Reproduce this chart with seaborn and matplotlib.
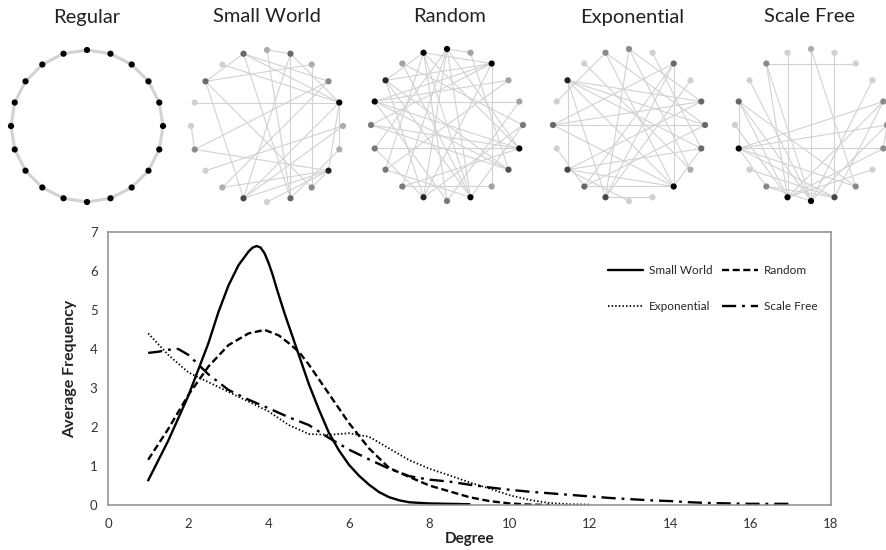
import numpy as np
import pandas as pd
import matplotlib
matplotlib.use("Agg")
import matplotlib.pyplot as plt
import seaborn as sns

# degree distribution curves
sw_x = [1.0, 1.5, 2.0, 2.5, 2.75, 3.0, 3.25, 3.5, 3.6, 3.7, 3.8, 3.9, 4.0, 4.1, 4.2, 4.4, 4.6,
        4.8, 5.0, 5.25, 5.5, 5.75, 6.0, 6.25, 6.5, 6.75, 7.0, 7.25, 7.5, 8.0, 8.5, 9.0]
sw_y = [0.63, 1.65, 2.8, 4.15, 4.95, 5.63, 6.15, 6.5, 6.6, 6.64, 6.6, 6.45, 6.2, 5.9, 5.55, 4.9,
        4.3, 3.7, 3.1, 2.45, 1.85, 1.4, 1.03, 0.75, 0.52, 0.33, 0.2, 0.12, 0.07, 0.04, 0.03, 0.02]

rnd_x = [1.0, 1.5, 2.0, 2.5, 3.0, 3.5, 3.9, 4.25, 4.5, 4.75, 5.0, 5.5, 6.0, 6.5, 7.0, 7.5,
         8.0, 8.5, 9.0, 9.5, 10.0, 10.5, 11.0]
rnd_y = [1.16, 1.95, 2.82, 3.55, 4.1, 4.4, 4.49, 4.35, 4.15, 3.93, 3.6, 2.85, 2.1, 1.45, 0.95, 0.72,
         0.5, 0.35, 0.2, 0.1, 0.04, 0.01, 0.0]

exp_x = [1.0, 1.5, 2.0, 2.5, 3.0, 3.5, 4.0, 4.5, 5.0, 5.5, 6.0, 6.5, 7.0, 7.5, 8.0, 8.5,
         9.0, 9.5, 10.0, 10.5, 11.0, 11.5, 12.0]
exp_y = [4.4, 3.85, 3.4, 3.15, 2.9, 2.65, 2.4, 2.05, 1.82, 1.8, 1.84, 1.75, 1.45, 1.15, 0.93, 0.76,
         0.58, 0.42, 0.25, 0.13, 0.05, 0.02, 0.01]

sf_x = [1.0, 1.25, 1.5, 1.75, 2.0, 2.5, 3.0, 3.5, 4.0, 4.5, 5.0, 5.5, 6.0, 6.5, 7.0, 7.5, 8.0,
        8.5, 9.0, 9.5, 10.0, 10.5, 11.0, 11.5, 12.0, 12.5, 13.0, 13.5, 14.0, 14.5, 15.0, 15.5,
        16.0, 16.5, 17.0]
sf_y = [3.9, 3.93, 3.98, 4.0, 3.85, 3.35, 2.95, 2.7, 2.48, 2.25, 2.05, 1.72, 1.42, 1.17, 0.93, 0.74, 0.65,
        0.6, 0.52, 0.45, 0.39, 0.34, 0.3, 0.26, 0.22, 0.18, 0.15, 0.12, 0.1, 0.07, 0.05, 0.04,
        0.03, 0.03, 0.03]

series_names = ["Small World", "Random", "Exponential", "Scale Free"]
x_ticks = list(range(0, 19, 2))
y_ticks = list(range(0, 8))

# network drawings: 20 nodes on a circle, edges as node pairs
n_nodes = 20
net_titles = ["Regular", "Small World", "Random", "Exponential", "Scale Free"]
regular_edges = [(i, (i + 1) % 20) for i in range(20)]
sw_edges = [(0, 1), (19, 17), (19, 9), (19, 4), (1, 4), (1, 9), (1, 11), (2, 8), (2, 17), (3, 14),
            (3, 12), (3, 19), (4, 16), (4, 6), (4, 7), (4, 11), (5, 11), (5, 13), (6, 9), (7, 12),
            (7, 11), (7, 14), (7, 10), (8, 17), (8, 7), (0, 9), (15, 14), (18, 4), (17, 11)]
rnd_edges = [(0, 1), (0, 9), (0, 12), (0, 14), (0, 6), (0, 11),
             (19, 6), (19, 9), (19, 13), (19, 17), (19, 10), (19, 2),
             (2, 16), (2, 17), (2, 8), (2, 11), (2, 15),
             (16, 6), (16, 4), (16, 10), (16, 7), (16, 3),
             (6, 14), (6, 12), (6, 15), (9, 17), (9, 5), (9, 18), (9, 13),
             (17, 7), (17, 11), (11, 5), (11, 14), (5, 18), (7, 15), (7, 1),
             (12, 8), (13, 3), (10, 4)]
exp_edges = [(8, 17), (8, 13), (8, 15), (8, 19), (8, 12), (8, 2), (8, 6),
             (17, 4), (17, 5), (17, 13), (17, 6), (17, 11),
             (13, 6), (13, 4), (13, 10), (4, 15), (4, 0), (5, 15), (5, 12), (5, 19),
             (15, 2), (2, 12), (2, 11), (12, 14), (11, 0), (11, 9), (19, 16),
             (0, 7), (7, 18), (1, 6), (3, 11)]
sf_edges = [(14, 4), (14, 5), (14, 6), (14, 8), (14, 9), (14, 16), (14, 12),
            (10, 18), (10, 16), (10, 3), (10, 5), (10, 17), (10, 12), (10, 0),
            (11, 18), (11, 19), (11, 16), (11, 4), (11, 7), (11, 6), (11, 15),
            (9, 1), (9, 12), (9, 4), (9, 13), (18, 2), (8, 0), (8, 16), (5, 6)]
net_edges = [regular_edges, sw_edges, rnd_edges, exp_edges, sf_edges]

sns.set_theme(style="white")
plt.rcParams["font.family"] = ["Lato", "DejaVu Sans"]

W, H = 887, 550
fig = plt.figure(figsize=(W / 100, H / 100), dpi=100)

# ---- network panels ----
centers = [(87, 126), (267, 126), (447, 125), (629, 125), (811, 125)]
radius = 76
title_x = [87, 267, 450, 632, 810]
theta = np.deg2rad(np.arange(n_nodes) * 360.0 / n_nodes)
px, py = np.sin(theta), np.cos(theta)

for k, (title, edges) in enumerate(zip(net_titles, net_edges)):
    cx, cy = centers[k]
    h = radius * 1.1
    nax = fig.add_axes([(cx - h) / W, 1 - (cy + h) / H, 2 * h / W, 2 * h / H])
    deg = np.zeros(n_nodes)
    for a, b in edges:
        deg[a] += 1
        deg[b] += 1
    lw = 2.2 if k == 0 else 0.8
    for a, b in edges:
        nax.plot([px[a], px[b]], [py[a], py[b]], color="#d2d2d2", lw=lw, zorder=1,
                 solid_capstyle="round")
    shade = 0.95 * (1 - deg / deg.max())
    node_df = pd.DataFrame({"x": px, "y": py, "g": shade})
    sns.scatterplot(data=node_df, x="x", y="y", hue="g", palette="gray", hue_norm=(0, 1),
                    ax=nax, s=20, linewidth=0, legend=False, zorder=3)
    nax.set_xlim(-1.1, 1.1)
    nax.set_ylim(-1.1, 1.1)
    nax.axis("off")
    fig.text(title_x[k] / W, 1 - 17 / H, title, ha="center", va="center",
             fontsize=14.5, color="#222222")

# ---- degree distribution chart ----
ax = fig.add_axes([108 / W, 1 - 505 / H, 723 / W, 273 / H])
frames = []
for name, xs, ys in zip(series_names, [sw_x, rnd_x, exp_x, sf_x], [sw_y, rnd_y, exp_y, sf_y]):
    frames.append(pd.DataFrame({"degree": xs, "freq": ys, "network": name}))
df = pd.concat(frames, ignore_index=True)

dashes = {"Small World": "", "Random": (3.0, 1.5), "Exponential": (0.8, 1.2),
          "Scale Free": (6, 2.5, 1.2, 2.5)}
sns.lineplot(data=df, x="degree", y="freq", hue="network", style="network",
             hue_order=series_names, style_order=series_names,
             palette={n: "black" for n in series_names}, dashes=dashes,
             estimator=None, sort=False, legend=False, ax=ax, lw=1.7)
line_w = {"Small World": 1.7, "Random": 1.7, "Exponential": 1.3, "Scale Free": 1.7}
for ln, name in zip(ax.lines, series_names):
    ln.set_linewidth(line_w[name])
    ln.set_label(name)

ax.set_xlim(0, 18)
ax.set_ylim(0, 7)
ax.set_xticks(x_ticks)
ax.set_yticks(y_ticks)
ax.tick_params(axis="both", labelsize=9.5, colors="#333333", length=4, width=0.9)
ax.tick_params(axis="x", direction="inout", length=6, color="#888888", pad=6)
ax.tick_params(axis="y", direction="out", color="#888888")
for sp in ax.spines.values():
    sp.set_color("#8c8c8c")
    sp.set_linewidth(1.1)
ax.set_xlabel("Degree", fontsize=11, fontweight="bold", color="#222222", labelpad=2)
ax.set_ylabel("Average Frequency", fontsize=11.5, fontweight="bold", color="#222222", labelpad=9)

handles = {ln.get_label(): ln for ln in ax.lines}
order = ["Small World", "Exponential", "Random", "Scale Free"]
ax.legend([handles[n] for n in order], order, ncol=2, frameon=False, fontsize=8.5,
          loc="upper left", bbox_to_anchor=(0.685, 0.895), handlelength=3.0,
          handletextpad=0.5, columnspacing=0.8, labelspacing=2.1, borderaxespad=0)

fig.savefig("out.png", dpi=100)
